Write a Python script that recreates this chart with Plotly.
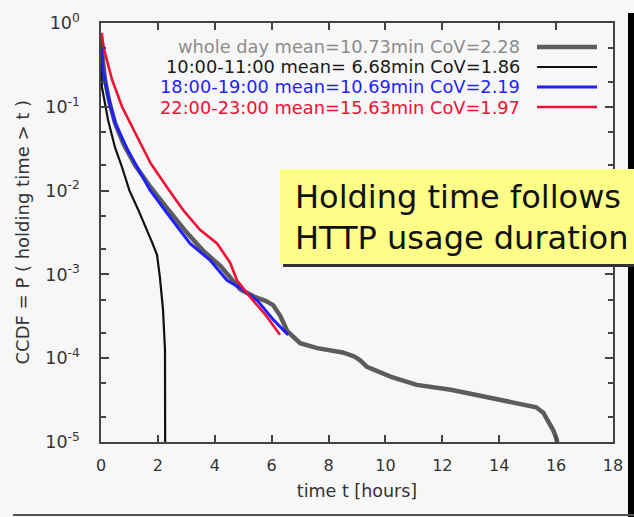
import plotly.graph_objects as go

# ---- data ----
whole_t = [0, 0.05, 0.15, 0.3, 0.5, 0.8, 1.2, 1.7, 2.3, 3.0, 3.6, 4.2, 4.9, 5.4, 5.8, 6.05,
           6.3, 6.55, 7.0, 7.6, 8.5, 8.9, 9.1, 9.35, 10.2, 11.1, 12.3, 13.4, 14.4, 15.3,
           15.55, 15.9, 16.03, 16.06]
whole_p = [0.76, 0.40, 0.20, 0.112, 0.063, 0.0355, 0.020, 0.0115, 0.0063, 0.0032, 0.0019,
           0.00126, 0.00066, 0.00054, 0.00048, 0.00043, 0.00032, 0.00021, 0.000151,
           0.000132, 0.000117, 0.000105, 0.000095, 0.000079, 0.00006, 0.000048, 0.000042,
           0.000035, 0.00003, 0.000026, 0.0000224, 0.0000138, 0.0000105, 0.000005]

h10_t = [0, 0.03, 0.25, 0.49, 0.74, 1.0, 1.3, 1.6, 1.8, 1.97, 2.07, 2.18, 2.25, 2.26]
h10_p = [0.63, 0.174, 0.069, 0.033, 0.019, 0.010, 0.006, 0.0035, 0.0024, 0.0017, 0.00093,
         0.00038, 0.000126, 0.000001]

h18_t = [0, 0.07, 0.25, 0.49, 0.95, 1.55, 1.72, 2.32, 3.13, 3.83, 4.43, 4.89, 5.49, 6.05, 6.58]
h18_p = [0.63, 0.275, 0.132, 0.0646, 0.030, 0.0132, 0.0102, 0.0054, 0.00234, 0.00148,
         0.00085, 0.00069, 0.00049, 0.00029, 0.00019]

h22_t = [0, 0.14, 0.39, 0.74, 1.2, 1.75, 2.4, 2.88, 3.48, 4.08, 4.54, 4.78, 5.24, 5.84, 6.29]
h22_p = [0.76, 0.44, 0.21, 0.10, 0.049, 0.021, 0.010, 0.0059, 0.0034, 0.00234, 0.00138,
         0.00085, 0.00054, 0.00031, 0.00019]

legend_labels = ["whole day mean=10.73min CoV=2.28",
                 "10:00-11:00 mean= 6.68min CoV=1.86",
                 "18:00-19:00 mean=10.69min CoV=2.19",
                 "22:00-23:00 mean=15.63min CoV=1.97"]

x_ticks = [0, 2, 4, 6, 8, 10, 12, 14, 16, 18]
y_ticks = [1, 0.1, 0.01, 0.001, 0.0001, 0.00001]
y_ticktext = ["10<sup>0</sup>", "10<sup>-1</sup>", "10<sup>-2</sup>", "10<sup>-3</sup>",
              "10<sup>-4</sup>", "10<sup>-5</sup>"]
y_minor = [m * d for d in [1e-5, 1e-4, 1e-3, 1e-2, 1e-1] for m in (2, 5)]

x_title = "time t [hours]"
y_title = "CCDF = P ( holding time > t )"
callout = ["Holding time follows", "HTTP usage duration"]

# ---- styling ----
FONT = "DejaVu Sans"
BG = "#f7f7f7"
GREY = "#5c5c5c"
BLACK = "#111111"
BLUE = "#1f1fff"
RED = "#ee1133"
series = [
    (whole_t, whole_p, GREY, 4.5, "#8c8c8c"),
    (h10_t, h10_p, BLACK, 2.2, "#1a1a1a"),
    (h18_t, h18_p, BLUE, 3.0, BLUE),
    (h22_t, h22_p, RED, 2.6, RED),
]

fig = go.Figure()
for (t, p, col, w, _), name in zip(series, legend_labels):
    fig.add_trace(go.Scatter(x=t, y=p, mode="lines", name=name,
                             line=dict(color=col, width=w), showlegend=False))

W, H = 634, 517
L, R, T, B = 101, 21, 23, 75
pw, ph = W - L - R, H - T - B


def px(xp):
    return (xp - L) / pw


def py(yp):
    return (H - B - yp) / ph


shapes = []
annotations = []
# legend (text right-aligned, sample line on the right)
for i, ((_, _, col, w, tcol), name) in enumerate(zip(series, legend_labels)):
    yy = py(47 + 20 * i)
    annotations.append(dict(xref="paper", yref="paper", x=px(522), y=yy, text=name,
                            showarrow=False, xanchor="right", yanchor="middle",
                            font=dict(family=FONT, size=17.8, color=tcol)))
    shapes.append(dict(type="line", xref="paper", yref="paper", x0=px(537), x1=px(597),
                       y0=yy, y1=yy, line=dict(color=col, width=w)))

# y axis title, placed like the original
annotations.append(dict(xref="paper", yref="paper", x=px(22), y=0.5, text=y_title,
                        textangle=-90, showarrow=False, xanchor="center",
                        yanchor="middle", font=dict(family=FONT, size=18, color="#333")))

# slide decorations: black bar at right, line at bottom
shapes.append(dict(type="rect", xref="paper", yref="paper", x0=px(628), x1=px(634),
                   y0=py(517), y1=py(13), fillcolor="#000000", line=dict(width=0),
                   layer="above"))
shapes.append(dict(type="line", xref="paper", yref="paper", x0=px(13), x1=px(634),
                   y0=py(515), y1=py(515), line=dict(color="#555555", width=2)))
# yellow callout with shadow
shapes.append(dict(type="rect", xref="paper", yref="paper", x0=px(283), x1=px(634),
                   y0=py(267), y1=py(172), fillcolor="#333333", line=dict(width=0),
                   layer="above"))
shapes.append(dict(type="rect", xref="paper", yref="paper", x0=px(280), x1=px(634),
                   y0=py(264), y1=py(169), fillcolor="#fdfd88", line=dict(width=0),
                   layer="above"))
for j, line in enumerate(callout):
    annotations.append(dict(xref="paper", yref="paper", x=px(293), y=py(197 + 41 * j),
                            text=line, showarrow=False, xanchor="left", yanchor="middle",
                            font=dict(family=FONT, size=32, color="#111111")))

fig.update_layout(
    width=W, height=H,
    margin=dict(l=L, r=R, t=T, b=B, pad=0),
    paper_bgcolor=BG, plot_bgcolor=BG,
    font=dict(family=FONT, size=16, color="#333333"),
    shapes=shapes, annotations=annotations,
)
fig.update_xaxes(range=[0, 18], tickvals=x_ticks, ticks="inside", ticklen=7,
                 tickwidth=1.5, tickcolor="#444", showline=True, linecolor="#444",
                 linewidth=1.5, mirror="allticks", showgrid=False, zeroline=False,
                 ticklabelstandoff=8, tickfont=dict(size=16, color="#333"),
                 title=dict(text=x_title, font=dict(size=17.5, color="#333"),
                            standoff=11))
fig.update_yaxes(type="log", range=[-5, 0], tickvals=y_ticks, ticktext=y_ticktext,
                 ticks="inside", ticklen=8, tickwidth=1.5, tickcolor="#444",
                 minor=dict(tickvals=y_minor, ticks="inside", ticklen=5, tickcolor="#444"),
                 showline=True, linecolor="#444", linewidth=1.5, mirror="allticks",
                 showgrid=False, zeroline=False, ticklabelstandoff=16,
                 tickfont=dict(size=17.5, color="#333"))

fig.write_html("out.html", config={"displayModeBar": False})
